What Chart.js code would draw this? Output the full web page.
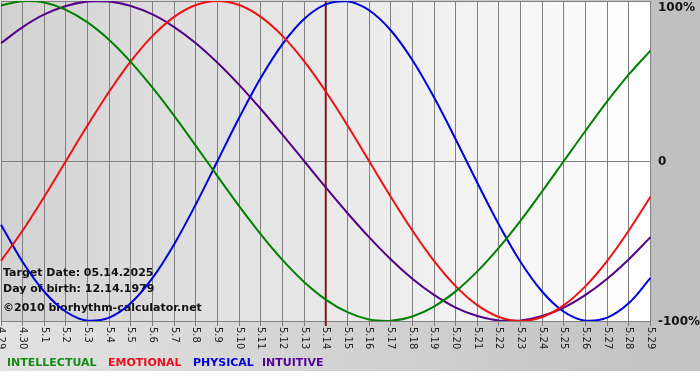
<!DOCTYPE html>
<html><head><meta charset="utf-8">
<script src="https://cdn.jsdelivr.net/npm/chart.js@4/dist/chart.umd.min.js"></script>
<style>html,body{margin:0;padding:0;background:#fff;}#wrap{width:700px;height:380px;}</style>
</head><body><div id="wrap"><canvas id="c" width="700" height="380"></canvas></div>
<script>
// ---- data ----
const dayLabels = ['4.29','4.30','5.1','5.2','5.3','5.4','5.5','5.6','5.7','5.8','5.9','5.10','5.11','5.12','5.13','5.14','5.15','5.16','5.17','5.18','5.19','5.20','5.21','5.22','5.23','5.24','5.25','5.26','5.27','5.28','5.29'];
const intellectual = [97.2,99.9,99.0,94.5,86.6,75.6,61.8,45.8,28.2,9.5,-9.5,-28.2,-45.8,-61.8,-75.6,-86.6,-94.5,-99.0,-99.9,-97.2,-91.0,-81.5,-69.0,-54.1,-37.2,-18.9,0,18.9,37.2,54.1,69.0];
const emotional = [-62.4,-43.4,-22.3,0,22.3,43.4,62.4,78.2,90.1,97.5,100,97.5,90.1,78.2,62.4,43.4,22.3,0,-22.3,-43.4,-62.4,-78.2,-90.1,-97.5,-100,-97.5,-90.1,-78.2,-62.4,-43.4,-22.3];
const physical = [-39.8,-63.1,-81.7,-94.2,-99.8,-97.9,-88.8,-73.1,-52.0,-27.0,0,27.0,52.0,73.1,88.8,97.9,99.8,94.2,81.7,63.1,39.8,13.6,-13.6,-39.8,-63.1,-81.7,-94.2,-99.8,-97.9,-88.8,-73.1];
const intuitive = [73.6,83.7,91.6,96.9,99.7,99.7,96.9,91.6,83.7,73.6,61.4,47.6,32.5,16.5,0,-16.5,-32.5,-47.6,-61.4,-73.6,-83.7,-91.6,-96.9,-99.7,-99.7,-96.9,-91.6,-83.7,-73.6,-61.4,-47.6];
const seriesNames = ['INTELLECTUAL','EMOTIONAL','PHYSICAL','INTUITIVE'];
const yTickValues = [100, 0, -100];
const yTickLabels = ['100%', '0', '-100%'];
const targetLabel = '5.14';
const infoLines = ['Target Date: 05.14.2025', 'Day of birth: 12.14.1979', '\u00A92010 biorhythm-calculator.net'];

// ---- styles ----
const colors = ['#008000', '#ee1111', '#0000dd', '#550088'];
const legendColors = ['#138a13', '#e8101a', '#0000dd', '#550099'];
const FONT = '"DejaVu Sans", Verdana, sans-serif';

const decor = {
  id: 'decor',
  beforeDraw(chart) {
    const {ctx, chartArea: a, width: W} = chart;
    ctx.save();
    let g = ctx.createLinearGradient(0, 0, W, 0);
    g.addColorStop(0, '#e2e2e2'); g.addColorStop(1, '#c2c2c2');
    ctx.fillStyle = g; ctx.fillRect(0, 0, W, 371);
    ctx.fillStyle = '#ffffff'; ctx.fillRect(0, 371, W, 9);
    ctx.fillStyle = '#c0c0c0'; ctx.fillRect(a.right, 0, W - a.right, a.bottom);
    g = ctx.createLinearGradient(a.left, 0, a.right, 0);
    g.addColorStop(0, '#d2d2d2'); g.addColorStop(1, '#ffffff');
    ctx.fillStyle = g; ctx.fillRect(a.left, a.top, a.right - a.left, a.bottom - a.top);
    ctx.restore();
  },
  beforeDatasetsDraw(chart) {
    const {ctx, chartArea: a, scales} = chart;
    ctx.save();
    ctx.font = 'bold 11px ' + FONT;
    ctx.fillStyle = '#111';
    ctx.textBaseline = 'alphabetic';
    ctx.textAlign = 'left';
    const ys = [276, 292, 311];
    infoLines.forEach((t, i) => ctx.fillText(t, 3, ys[i]));
    const tx = scales.x.getPixelForValue(dayLabels.indexOf(targetLabel));
    ctx.strokeStyle = '#7a1a1a';
    ctx.lineWidth = 2;
    ctx.beginPath(); ctx.moveTo(tx, a.top); ctx.lineTo(tx, a.bottom + 5); ctx.stroke();
    ctx.restore();
  },
  afterDraw(chart) {
    const {ctx, chartArea: a, scales} = chart;
    ctx.save();
    ctx.font = '10px ' + FONT;
    ctx.fillStyle = '#222';
    ctx.textAlign = 'left';
    ctx.textBaseline = 'middle';
    dayLabels.forEach((lab, i) => {
      const x = scales.x.getPixelForValue(i);
      ctx.save();
      ctx.translate(x, a.bottom + 6);
      ctx.rotate(Math.PI / 2);
      ctx.fillText(lab, 0, 0);
      ctx.restore();
    });
    ctx.font = 'bold 12px ' + FONT;
    ctx.fillStyle = '#111';
    yTickValues.forEach((v, i) => {
      let y = scales.y.getPixelForValue(v);
      y = Math.max(y, a.top + 6);
      ctx.fillText(yTickLabels[i], a.right + 7.5, y + 0.5);
    });
    ctx.font = 'bold 11px ' + FONT;
    ctx.textBaseline = 'alphabetic';
    const lx = [7, 108, 193, 262];
    chart.data.datasets.forEach((ds, i) => {
      ctx.fillStyle = legendColors[i];
      ctx.fillText(ds.label, lx[i], 366);
    });
    ctx.restore();
  }
};

const mk = (label, data, i) => ({
  label, data, borderColor: colors[i], backgroundColor: colors[i],
  borderWidth: 2, pointRadius: 0, pointHoverRadius: 0, tension: 0.35, fill: false
});

new Chart(document.getElementById('c'), {
  type: 'line',
  data: {
    labels: dayLabels,
    datasets: [
      mk(seriesNames[0], intellectual, 0),
      mk(seriesNames[1], emotional, 1),
      mk(seriesNames[2], physical, 2),
      mk(seriesNames[3], intuitive, 3)
    ]
  },
  options: {
    responsive: false,
    devicePixelRatio: 1,
    animation: false,
    events: [],
    layout: {padding: {left: 1, top: 1, right: 0, bottom: 0}},
    plugins: {legend: {display: false}, tooltip: {enabled: false}, title: {display: false}},
    scales: {
      x: {
        type: 'category',
        offset: false,
        grid: {color: '#808080', lineWidth: 1, drawTicks: true, tickLength: 5, tickColor: '#808080'},
        border: {display: false},
        ticks: {display: false, autoSkip: false},
        afterFit(s) { s.height = 59; }
      },
      y: {
        type: 'linear',
        position: 'right',
        min: -100, max: 100,
        grid: {color: '#808080', lineWidth: 1, drawTicks: false},
        border: {display: false},
        ticks: {display: false, stepSize: 100},
        afterFit(s) { s.width = 49.5; }
      }
    }
  },
  plugins: [decor]
});
</script>
</body></html>
